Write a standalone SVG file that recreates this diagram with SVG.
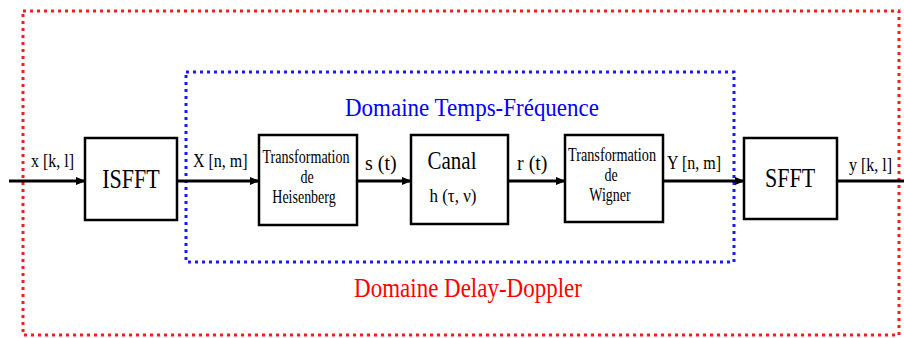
<svg xmlns="http://www.w3.org/2000/svg" width="904" height="338" viewBox="0 0 904 338">
<defs>
<marker id="arr" markerWidth="10" markerHeight="8" refX="9" refY="4" orient="auto" markerUnits="userSpaceOnUse">
<path d="M0,0 L10,4 L0,8 Z" fill="#000"/>
</marker>
</defs>
<style>
.box{fill:#fff;stroke:#000;stroke-width:2.5}
.wire{stroke:#000;stroke-width:3;fill:none}
.t{font-family:"Liberation Serif","Times New Roman",serif;fill:#000}
.lbl{font-size:16px}
.big{font-size:22px;text-anchor:middle}
.sm{font-size:14px;text-anchor:middle}
.dom{font-size:23px;text-anchor:middle}
</style>
<rect x="23" y="11" width="876" height="324" fill="none" stroke="#ff1a1a" stroke-width="3" stroke-dasharray="3 4"/>
<rect x="186" y="72" width="548" height="190" fill="none" stroke="#1a1aff" stroke-width="3" stroke-dasharray="3 4"/>
<text class="t dom" style="fill:#0000ff" transform="translate(472,116) scale(1,1.12)">Domaine Temps-Fréquence</text>
<text class="t dom" style="fill:#ff0000" transform="translate(468,297) scale(1,1.15)">Domaine Delay-Doppler</text>
<g id="connectors">
<line class="wire" x1="9" y1="181" x2="85" y2="181" marker-end="url(#arr)"/>
<line class="wire" x1="177" y1="181" x2="259" y2="181" marker-end="url(#arr)"/>
<line class="wire" x1="357" y1="181" x2="411" y2="181" marker-end="url(#arr)"/>
<line class="wire" x1="508" y1="181" x2="565" y2="181" marker-end="url(#arr)"/>
<line class="wire" x1="663" y1="181" x2="744" y2="181" marker-end="url(#arr)"/>
<line class="wire" x1="837" y1="181" x2="904" y2="181"/>
<text class="t lbl" transform="translate(31,167) scale(1,1.15)">x [k, l]</text>
<text class="t lbl" transform="translate(193,167) scale(1,1.15)">X [n, m]</text>
<text class="t" font-size="20" transform="translate(365,170) scale(1,1.1)">s (t)</text>
<text class="t" font-size="20" transform="translate(517,170) scale(1,1.1)">r (t)</text>
<text class="t lbl" transform="translate(667,169) scale(1,1.15)">Y [n, m]</text>
<text class="t lbl" transform="translate(849,171) scale(1,1.15)">y [k, l]</text>
</g>
<g id="isfft">
<rect class="box" x="85" y="138" width="92" height="82"/>
<text class="t big" transform="translate(131,188) scale(1,1.2)">ISFFT</text>
</g>
<g id="heisenberg">
<rect class="box" x="259" y="135" width="98" height="90"/>
<text class="t sm" textLength="87" lengthAdjust="spacingAndGlyphs" transform="translate(306,163) scale(1,1.3)">Transformation</text>
<text class="t sm" transform="translate(307,183) scale(1,1.3)">de</text>
<text class="t sm" transform="translate(304,203) scale(1,1.3)">Heisenberg</text>
</g>
<g id="canal">
<rect class="box" x="411" y="135" width="97" height="89"/>
<text class="t" font-size="21" text-anchor="middle" transform="translate(452,169) scale(1,1.2)">Canal</text>
<text class="t" font-size="17" text-anchor="middle" transform="translate(453,202) scale(1,1.15)">h (τ, ν)</text>
</g>
<g id="wigner">
<rect class="box" x="565" y="135" width="98" height="87"/>
<text class="t sm" textLength="88" lengthAdjust="spacingAndGlyphs" transform="translate(612,161) scale(1,1.3)">Transformation</text>
<text class="t sm" transform="translate(611,181) scale(1,1.3)">de</text>
<text class="t sm" transform="translate(610,201) scale(1,1.3)">Wigner</text>
</g>
<g id="sfft">
<rect class="box" x="744" y="138" width="93" height="81"/>
<text class="t big" transform="translate(790,187) scale(1,1.2)">SFFT</text>
</g>
</svg>
